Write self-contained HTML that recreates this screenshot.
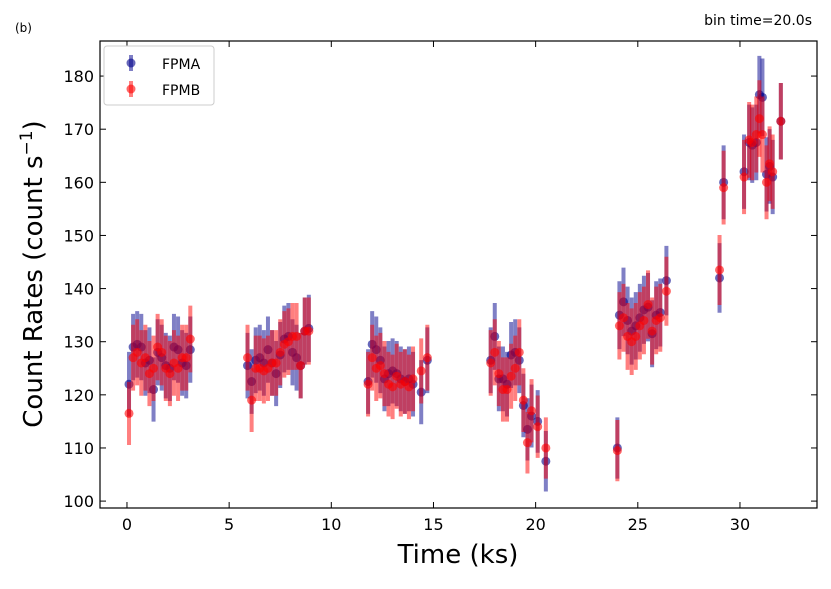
<!DOCTYPE html>
<html><head><meta charset="utf-8"><style>
body{margin:0;background:#fff;}
svg{font-family:"DejaVu Sans","Liberation Sans",sans-serif;}
</style></head><body>
<svg id="c" width="831" height="584" viewBox="0 0 831 584">
<text x="15" y="32" font-size="12">(b)</text>
<text x="812" y="25" font-size="14" text-anchor="end">bin time=20.0s</text>
<g id="marks"></g>
<rect x="100" y="41" width="717" height="467" fill="none" stroke="#000" stroke-width="1.2"/>
<g id="axes"></g>
<text x="458" y="563" font-size="26" text-anchor="middle">Time (ks)</text>
<text transform="translate(42,274) rotate(-90)" font-size="26" text-anchor="middle">Count Rates (count s<tspan baseline-shift="super" font-size="17">−1</tspan>)</text>
<g>
<rect x="104" y="46" width="110" height="59" rx="3" fill="#fff" stroke="#ccc"/>
<line x1="131" y1="55" x2="131" y2="71" stroke="rgba(0,0,139,0.5)" stroke-width="4"/>
<circle cx="131" cy="63" r="4.5" fill="rgba(0,0,139,0.6)"/>
<text x="162" y="69" font-size="14">FPMA</text>
<line x1="131" y1="81" x2="131" y2="97" stroke="rgba(255,0,0,0.5)" stroke-width="4"/>
<circle cx="131" cy="89" r="4.5" fill="rgba(255,0,0,0.6)"/>
<text x="162" y="95" font-size="14">FPMB</text>
</g>
</svg>
<script>
const timeA=[0.1,0.3,0.5,0.7,0.9,1.1,1.3,1.5,1.7,1.9,2.1,2.3,2.5,2.7,2.9,3.1,
5.9,6.1,6.3,6.5,6.7,6.9,7.1,7.3,7.5,7.7,7.9,8.1,8.3,8.5,8.7,8.9,
11.8,12.0,12.2,12.4,12.6,12.8,13.0,13.2,13.4,13.6,13.8,14.0,14.4,14.7,
17.8,18.0,18.2,18.4,18.6,18.8,19.0,19.2,19.4,19.6,19.8,20.1,20.5,
24.0,24.1,24.3,24.5,24.7,24.9,25.1,25.3,25.5,25.7,25.9,26.1,26.4,
29.0,29.2,30.2,30.45,30.6,30.8,30.95,31.1,31.3,31.45,31.6,32.0];
const rateA=[122,129,129.5,129,126,126.5,121,128,127,125.5,125,129,128.5,126,125.5,128.5,
125.5,122.5,126.5,127,126,128.5,126,124,127.5,130.5,131,128,127,125.5,132,132.5,
122.5,129.5,128.5,126.5,123,124,124.5,124,123,122.5,123,122,120.5,126.5,
126.5,131,123,123,122,127.5,128,126.5,118,113.5,116,115,107.5,
110,135,137.5,134,132,133,134.5,136,136.5,131.5,135,135.5,141.5,
142,160,162,167.5,167,167.5,176.5,176,161.5,163,161,171.5];
const rateB=[116.5,127,128,126,127,124,125,129,128,125,124,126,125,127,127,130.5,
127,119,125,125,124.5,125,126,126,128,129.5,130,131,131,125.5,132,132,
122,127,125,125.5,124,122,121.5,123.5,122,122.5,121.5,123,124.5,127,
126,128,124,121,121,123.5,125,128,119,111,117,114,110,
109.5,133,134.5,131,130,131,133,134,137,132,134,134.5,139.5,
143.5,159,161,168,167.5,169,172,169,160,163.5,162,171.5];
const xTicks=[0,5,10,15,20,25,30];
const yTicks=[100,110,120,130,140,150,160,170,180];
const X0=100,X1=817,Y0=508,Y1=41,xmin=-1.32,xmax=33.77,ymin=98.7,ymax=186.6;
const sx=v=>X0+(v-xmin)/(xmax-xmin)*(X1-X0);
const sy=v=>Y0-(v-ymin)/(ymax-ymin)*(Y0-Y1);
const NS="http://www.w3.org/2000/svg";
const marks=document.getElementById('marks'),axes=document.getElementById('axes');
function mk(tag,attrs,parent){const e=document.createElementNS(NS,tag);for(const k in attrs)e.setAttribute(k,attrs[k]);parent.appendChild(e);return e;}
function series(rates,col,name){
  const g=mk('g',{},marks);
  
  
  rates.forEach((r,i)=>{
    const t=timeA[i],e=Math.sqrt(r)*0.55;
    const l=mk('line',{x1:sx(t),x2:sx(t),y1:sy(r-e),y2:sy(r+e),stroke:col,'stroke-width':4,'stroke-opacity':0.5},g);
    
    
    const c=mk('circle',{cx:sx(t),cy:sy(r),r:4.5,fill:col,'fill-opacity':0.6},g);
    
    
  });
}
series(rateA,'#00008b','fpma-series');
series(rateB,'#ff0000','fpmb-series');
xTicks.forEach(v=>{
  const x=sx(v);
  mk('line',{x1:x,x2:x,y1:Y0,y2:Y0-6,stroke:'#000'},axes);
  mk('line',{x1:x,x2:x,y1:Y1,y2:Y1+6,stroke:'#000'},axes);
  const t=mk('text',{x:x,y:Y0+22,'font-size':16,'text-anchor':'middle'},axes);
  t.textContent=v;
  
  
});
yTicks.forEach(v=>{
  const y=sy(v);
  mk('line',{x1:X0,x2:X0+6,y1:y,y2:y,stroke:'#000'},axes);
  mk('line',{x1:X1,x2:X1-6,y1:y,y2:y,stroke:'#000'},axes);
  const t=mk('text',{x:X0-6,y:y+6,'font-size':16,'text-anchor':'end'},axes);
  t.textContent=v;
  
  
});
</script>
</body></html>
